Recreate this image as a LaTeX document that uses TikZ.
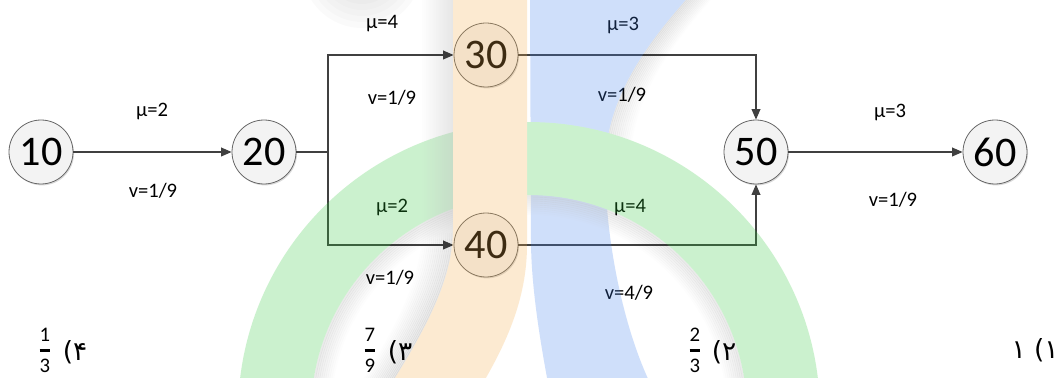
\documentclass[tikz,border=0pt]{standalone}
\usepackage{amsmath}
\usepackage{fontspec}
\setmainfont{Carlito}
\newfontfamily\perfont[Script=Arabic]{DejaVu Sans}
\TeXXeTstate=1
\usetikzlibrary{arrows.meta,shadows}
\definecolor{lgreen}{RGB}{51,203,63}
\definecolor{lblue}{RGB}{67,131,239}
\definecolor{lorange}{RGB}{247,175,75}
\definecolor{edgec}{RGB}{64,64,64}
\definecolor{nodefill}{RGB}{243,243,243}
\begin{document}
\begin{tikzpicture}[x=0.02cm,y=-0.02cm,
  evt/.style={circle, draw=black!60, line width=0.45pt, fill=nodefill, minimum size=1.28cm, inner sep=0pt,
    font=\fontsize{24}{26}\selectfont,
    drop shadow={shadow xshift=0.6pt, shadow yshift=-0.8pt, opacity=0.15, fill=black}},
  lbl/.style={font=\fontsize{11.7}{14}\selectfont, inner sep=0pt},
  con/.style={draw=edgec, line width=0.75pt},
  arr/.style={con, -{Triangle[length=6pt,width=5pt]}},
  frc/.style={font=\fontsize{11.8}{14}\selectfont, inner sep=0pt, anchor=base},
  opt/.style={font=\perfont\fontsize{15}{17}\selectfont, inner sep=0pt},
  shd/.style={draw=black, line cap=butt}
]
\path[fill=white] (0,0) rectangle (1063,378);
\useasboundingbox (0,0) rectangle (1063,378);

% event nodes
\node[evt] (n10) at (41,152) {10};
\node[evt] (n20) at (264,152) {20};
\node[evt] (n30) at (486,55) {30};
\node[evt] (n40) at (486,245) {40};
\node[evt] (n50) at (756,152) {50};
\node[evt] (n60) at (995,152) {60};
\coordinate (j) at (328,152);

% connectors
\draw[arr] (n10) -- (n20);
\draw[con] (n20) -- (j);
\draw[arr] (j) |- (n30);
\draw[arr] (j) |- (n40);
\draw[arr] (n30) -| (n50);
\draw[arr] (n40) -| (n50);
\draw[arr] (n50) -- (n60);

% labels
\node[lbl] (m12) at (152,111) {μ=2};
\node[lbl] (v12) at (153,191) {v=1/9};
\node[lbl] (m23) at (382,24) {μ=4};
\node[lbl] (v23) at (392,98) {v=1/9};
\node[lbl] (m35) at (623,25) {μ=3};
\node[lbl] (v35) at (622,95) {v=1/9};
\node[lbl] (m24) at (392,207) {μ=2};
\node[lbl] (v24) at (390,278) {v=1/9};
\node[lbl] (m45) at (630,208) {μ=4};
\node[lbl] (v45) at (629,293) {v=4/9};
\node[lbl] (m56) at (890,112) {μ=3};
\node[lbl] (v56) at (893,200) {v=1/9};

% answer options
\node[frc] (f4) at (45,356) {$\genfrac{}{}{1.4pt}{0}{\text{1}}{\text{3}}$};
\node[opt] (o4) at (75,352) {\beginR ۴)\endR};
\node[frc] (f3) at (370,356) {$\genfrac{}{}{1.4pt}{0}{\text{7}}{\text{9}}$};
\node[opt] (o3) at (400,352) {\beginR ۳)\endR};
\node[frc] (f2) at (695,356) {$\genfrac{}{}{1.4pt}{0}{\text{2}}{\text{3}}$};
\node[opt] (o2) at (724,352) {\beginR ۲)\endR};
\node[opt] (o1) at (1035,350) {\beginR ۱) ۱\endR};

% watermark logo overlay
\begin{scope}[transparency group, opacity=0.25]
  \clip (0,0) rectangle (1063,378);
  % soft shadow right of the blue band (upper part)
  \foreach \d in {0,2,...,24} {
    \pgfmathsetmacro\o{0.32*(1-\d/26)}
    \draw[shd, line width=2.4*0.02cm, opacity=\o, xshift=\d*0.02cm] (690,-5) .. controls (650,40) and (612,90) .. (606,150) -- (604,210);
  }
  \fill[lblue] (530,-5) -- (690,-5) .. controls (650,40) and (612,90) .. (606,150) .. controls (602,220) and (620,320) .. (650,383) -- (548,383) .. controls (538,330) and (531,280) .. (531,240) -- cycle;
  % soft shadow inside the green ring
  \foreach \d in {0,2,...,18} {
    \pgfmathsetmacro\o{0.32*(1-\d/20)}
    \draw[black, opacity=\o, line width=2.4*0.02cm] (529,413) circle[radius={(217-\d)*0.02cm}];
  }
  \fill[lgreen, even odd rule] (529,413) circle[radius=5.82cm] (529,413) circle[radius=4.36cm];
  % soft shadow left of the orange band
  \foreach \d in {0,2,...,30} {
    \pgfmathsetmacro\o{0.36*(1-\d/32)}
    \draw[shd, line width=2.4*0.02cm, opacity=\o, xshift=-\d*0.02cm] (453,-5) -- (453,230) .. controls (453,280) and (425,330) .. (392,383);
  }
  \fill[lorange] (453,-5) -- (527,-5) -- (527,245) .. controls (527,300) and (505,345) .. (483,383) -- (392,383) .. controls (425,330) and (453,280) .. (453,230) -- cycle;
  % soft blob at the top left
  \foreach \r in {30,36,...,60} {
    \fill[black, opacity=0.07] (362,-32) circle[radius=\r*0.02cm];
  }
\end{scope}
\end{tikzpicture}
\end{document}
